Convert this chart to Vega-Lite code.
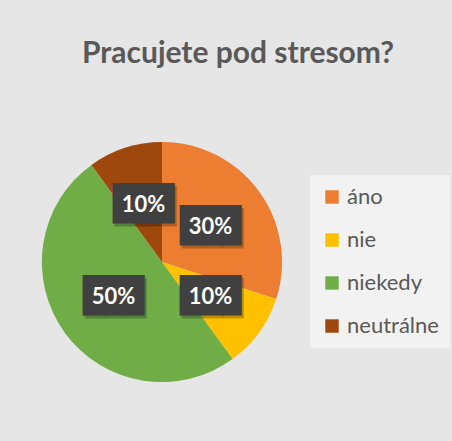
{
  "$schema": "https://vega.github.io/schema/vega-lite/v6.json",
  "autosize": "none",
  "width": 300,
  "height": 358,
  "padding": {"left": 12, "top": 83, "right": 140, "bottom": 0},
  "background": "#e6e6e6",
  "config": {"view": {"stroke": null}},
  "title": {
    "text": "Pracujete pod stresom?",
    "font": "Lato",
    "fontSize": 30,
    "fontWeight": "bold",
    "color": "#595959",
    "anchor": "middle",
    "dx": 76,
    "offset": 14
  },
  "data": {
    "values": [
      {"n": 1, "odpoved": "áno", "podiel": 30, "popis": "30%"},
      {"n": 2, "odpoved": "nie", "podiel": 10, "popis": "10%"},
      {"n": 3, "odpoved": "niekedy", "podiel": 50, "popis": "50%"},
      {"n": 4, "odpoved": "neutrálne", "podiel": 10, "popis": "10%"}
    ]
  },
  "encoding": {
    "theta": {"field": "podiel", "type": "quantitative", "stack": true},
    "order": {"field": "n", "type": "quantitative"}
  },
  "layer": [
    {
      "mark": {"type": "arc", "outerRadius": 120},
      "encoding": {
        "color": {
          "field": "odpoved",
          "type": "nominal",
          "scale": {
            "domain": ["áno", "nie", "niekedy", "neutrálne"],
            "range": ["#ED7D31", "#FFC000", "#70AD47", "#9E480E"]
          },
          "legend": {
            "orient": "none",
            "legendX": 298,
            "legendY": 92,
            "title": null,
            "symbolType": "square",
            "symbolSize": 180,
            "symbolStrokeWidth": 0,
            "labelFont": "Lato",
            "labelFontSize": 22,
            "labelColor": "#595959",
            "labelOffset": 4,
            "rowPadding": 21,
            "fillColor": "#f2f2f2",
            "padding": 11
          }
        }
      }
    },
    {
      "mark": {"type": "text", "radius": 60, "text": "███", "font": "DejaVu Sans Mono", "fontSize": 34, "color": "rgba(0,0,0,0.25)", "dx": 2, "dy": 3, "baseline": "middle", "align": "center"}
    },
    {
      "mark": {"type": "text", "radius": 60, "text": "███", "font": "DejaVu Sans Mono", "fontSize": 34, "color": "#404040", "baseline": "middle", "align": "center"}
    },
    {
      "mark": {"type": "text", "radius": 60, "font": "Lato", "fontWeight": "bold", "fontSize": 22, "color": "white", "baseline": "middle", "align": "center"},
      "encoding": {"text": {"field": "popis", "type": "nominal"}}
    }
  ]
}
